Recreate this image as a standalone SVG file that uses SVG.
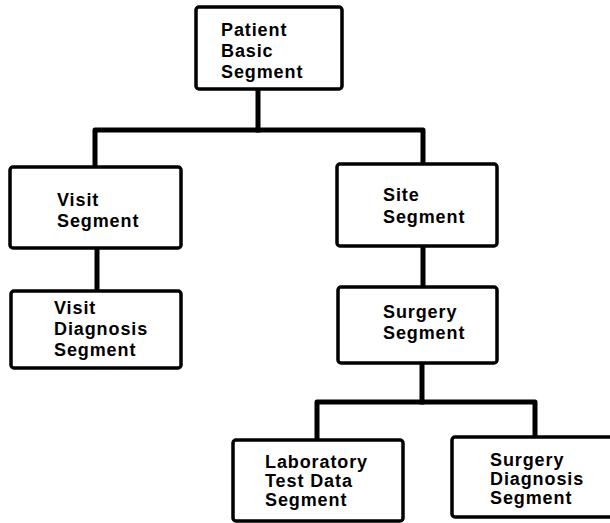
<svg xmlns="http://www.w3.org/2000/svg" width="610" height="523" viewBox="0 0 610 523">
  <style>
    .box { fill: #ffffff; stroke: #000000; stroke-width: 3.5; }
    .edge { fill: none; stroke: #000000; stroke-width: 5; stroke-linejoin: round; stroke-linecap: square; }
    .lbl { font-family: "Liberation Sans", Arial, sans-serif; font-weight: bold; font-size: 18px; letter-spacing: 0.9px; fill: #000000; }
  </style>
  <rect width="610" height="523" fill="#ffffff"/>

  <!-- connectors -->
  <g id="connectors">
    <path class="edge" d="M258,89 V130"/>
    <path class="edge" d="M95,168 V130 H423 V164"/>
    <path class="edge" d="M97,248 V291"/>
    <path class="edge" d="M423,246 V287"/>
    <path class="edge" d="M422,363 V402"/>
    <path class="edge" d="M317,440 V402 H535 V437"/>
  </g>

  <g id="patient-basic">
    <rect class="box" x="196" y="7" width="146" height="82" rx="3"/>
    <text class="lbl" x="221" y="36">Patient</text>
    <text class="lbl" x="221" y="57">Basic</text>
    <text class="lbl" x="221" y="78">Segment</text>
  </g>

  <g id="visit">
    <rect class="box" x="10" y="167" width="171" height="81" rx="3"/>
    <text class="lbl" x="57" y="206">Visit</text>
    <text class="lbl" x="57" y="227">Segment</text>
  </g>

  <g id="visit-diagnosis">
    <rect class="box" x="11" y="291" width="170" height="77" rx="3"/>
    <text class="lbl" x="54" y="314">Visit</text>
    <text class="lbl" x="54" y="335">Diagnosis</text>
    <text class="lbl" x="54" y="356">Segment</text>
  </g>

  <g id="site">
    <rect class="box" x="337" y="164" width="160" height="82" rx="3"/>
    <text class="lbl" x="383" y="201">Site</text>
    <text class="lbl" x="383" y="223">Segment</text>
  </g>

  <g id="surgery">
    <rect class="box" x="338" y="287" width="159" height="76" rx="3"/>
    <text class="lbl" x="383" y="318">Surgery</text>
    <text class="lbl" x="383" y="339">Segment</text>
  </g>

  <g id="lab-test-data">
    <rect class="box" x="233" y="440" width="170" height="81" rx="3"/>
    <text class="lbl" x="265" y="468">Laboratory</text>
    <text class="lbl" x="265" y="487">Test Data</text>
    <text class="lbl" x="265" y="506">Segment</text>
  </g>

  <g id="surgery-diagnosis">
    <rect class="box" x="452" y="437" width="175" height="80" rx="3"/>
    <text class="lbl" x="490" y="466">Surgery</text>
    <text class="lbl" x="490" y="485">Diagnosis</text>
    <text class="lbl" x="490" y="504">Segment</text>
  </g>
</svg>
